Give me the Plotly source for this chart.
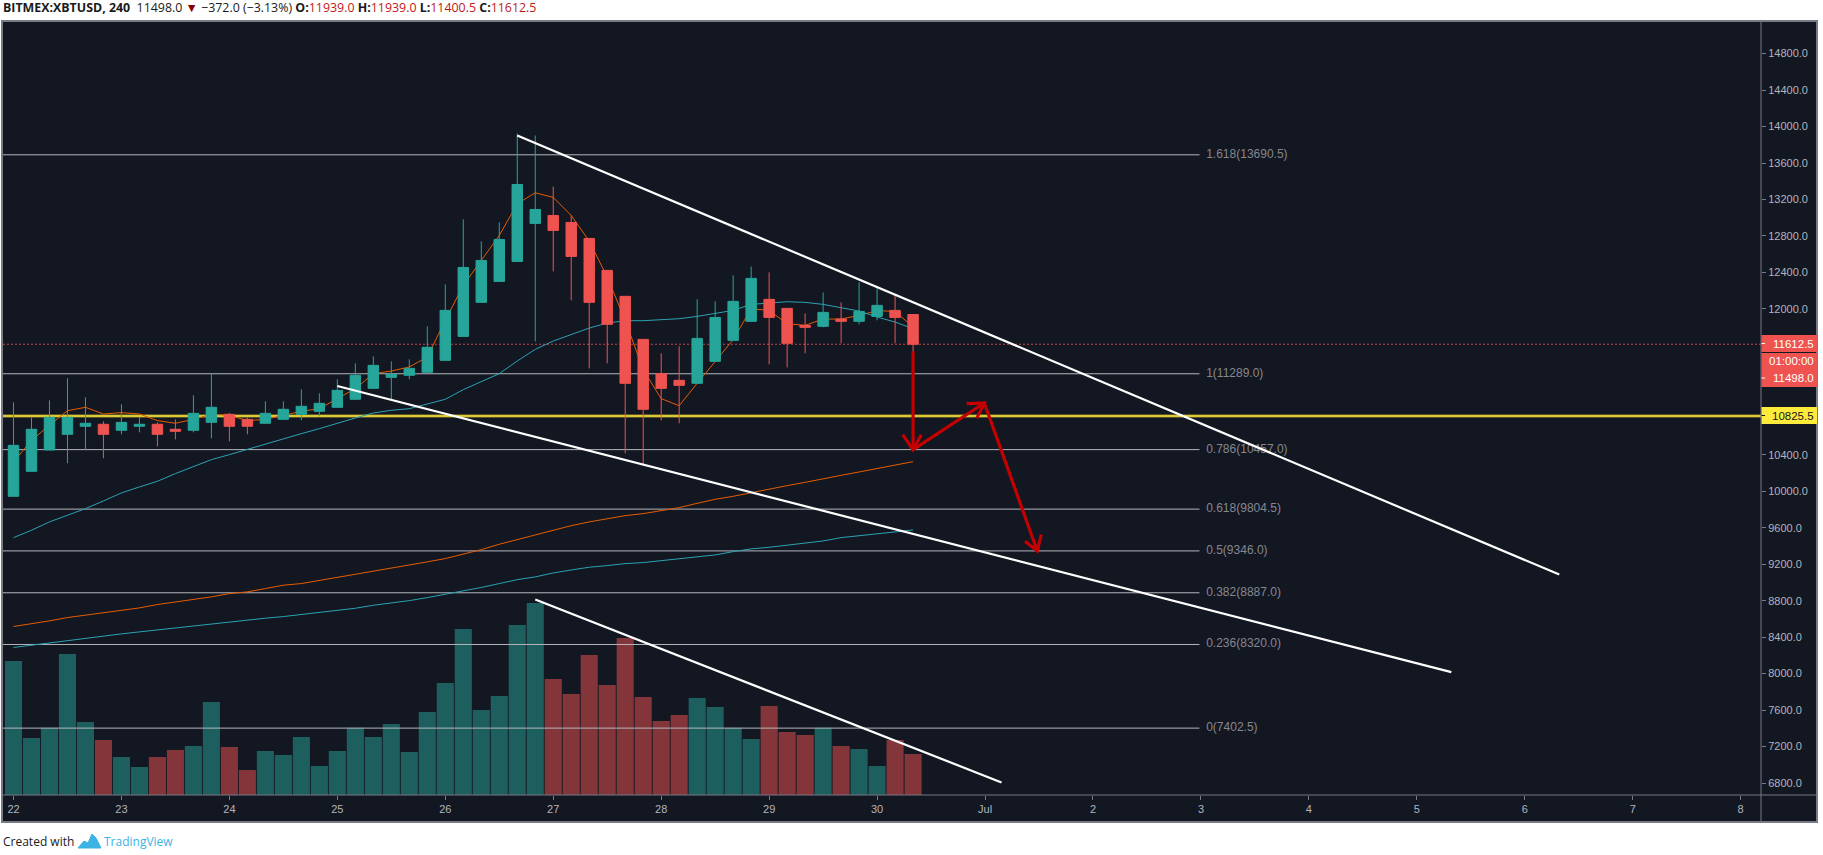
import pandas as pd
import plotly.graph_objects as go

# ---------- data ----------
START = "2019-06-22 00:00"
opens = [9945,10219,10453,10625,10713,10735,10669,10713,10735,10680,10669,10756,10844,10789,10746,10789,10844,10877,10921,11009,11129,11250,11272,11305,11436,11699,12072,12302,12521,12938,13025,12949,12773,12423,12138,11666,11290,11217,11184,11425,11655,11864,12105,12006,11820,11809,11889,11864,11918,11984,11939]
highs = [10976,10811,10998,11239,11031,10767,10954,10815,10756,10789,11052,11294,10859,10811,10987,10987,11118,11074,11228,11403,11480,11425,11447,11809,12269,12982,12740,12949,13924,13902,13343,13025,12773,12423,12138,11666,11513,11590,12105,12083,12368,12466,12401,12006,11951,12181,12072,12291,12225,12149,11939]
lows = [9945,10219,10453,10307,10450,10362,10625,10647,10493,10570,10647,10581,10548,10625,10746,10789,10778,10822,10921,11009,11129,11009,11228,11305,11436,11699,12072,12302,12521,11644,12412,12094,11348,11403,10417,10296,10778,10746,11184,11425,11655,11864,11392,11359,11513,11798,11623,11831,11875,11623,11400.5]
closes = [10504,10680,10811,10811,10746,10625,10756,10735,10625,10658,10855,10921,10713,10713,10855,10899,10932,10965,11107,11272,11381,11283,11348,11579,11984,12455,12532,12762,13365,13091,12861,12576,12072,11831,11184,10899,11129,11162,11677,11907,12083,12335,11907,11623,11798,11962,11864,11973,12039,11907,11612.5]
volumes = [402,171,202,423,219,165,114,84,114,135,147,279,144,75,132,120,174,87,132,202,174,213,129,249,336,498,255,297,510,576,348,303,420,330,471,294,222,240,291,264,202,168,267,189,180,202,147,138,87,165,123]
ma_fast = [10322,10559,10724,10884,10921,10848,10863,10848,10775,10746,10789,10844,10833,10775,10789,10837,10877,10906,11016,11126,11290,11319,11363,11473,11875,12258,12532,12806,13153,13274,13223,13025,12744,12350,11875,11334,11016,10939,11184,11425,11663,12002,11984,11838,11820,11889,11889,11929,11981,11973,11802]
ma_mid = [9492,9573,9664,9737,9810,9894,9982,10048,10110,10194,10274,10347,10402,10461,10515,10574,10632,10687,10749,10804,10859,10888,10906,10954,11009,11115,11199,11290,11429,11557,11648,11717,11790,11845,11871,11871,11878,11893,11918,11948,11984,12050,12068,12079,12072,12050,12013,11977,11911,11856,11783]
ma_slow = [8517,8546,8579,8615,8641,8670,8696,8721,8758,8787,8809,8842,8878,8897,8933,8970,8988,9021,9054,9087,9123,9153,9185,9226,9262,9310,9360,9419,9470,9521,9572,9623,9664,9700,9733,9755,9784,9821,9868,9912,9945,9985,10029,10062,10098,10139,10175,10212,10252,10288,10325]
ma_long = [8287,8312,8337,8367,8389,8411,8436,8458,8480,8505,8527,8549,8564,8586,8608,8626,8648,8674,8696,8717,8750,8772,8801,8834,8871,8904,8945,8988,9031,9061,9104,9137,9167,9185,9207,9218,9240,9258,9280,9302,9338,9368,9386,9408,9433,9455,9492,9510,9532,9554,9576]

fib_labels = ["1.618(13690.5)","1(11289.0)","0.786(10457.0)","0.618(9804.5)","0.5(9346.0)","0.382(8887.0)","0.236(8320.0)","0(7402.5)"]
fib_values = [13690.5,11289,10457,9804.5,9346,8887,8320,7402.5]

support_level = 10825.5
close_level = 11612.5

trend_upper_x = ["2019-06-26 16:00","2019-07-06 07:40"]
trend_upper_y = [13902,9087]
trend_lower_x = ["2019-06-25 00:00","2019-07-05 07:40"]
trend_lower_y = [11155,8016]
trend_volume_x = ["2019-06-26 20:00","2019-07-01 03:40"]
trend_volume_y = [8813,6807]

arrow1_x = ["2019-06-30 08:00","2019-06-30 08:00",None,"2019-06-30 05:41","2019-06-30 08:00","2019-06-30 09:50"]
arrow1_y = [11535,10457,None,10621,10457,10621]
arrow2_x = ["2019-06-30 08:00","2019-06-30 23:50",None,"2019-06-30 19:55","2019-06-30 23:50","2019-06-30 22:09"]
arrow2_y = [10457,10968,None,10961,10968,10800]
arrow3_x = ["2019-06-30 23:50","2019-07-01 11:37",None,"2019-07-01 08:53","2019-07-01 11:37","2019-07-01 12:30"]
arrow3_y = [10968,9346,None,9452,9346,9525]

tick_dates = ["2019-06-22","2019-06-23","2019-06-24","2019-06-25","2019-06-26","2019-06-27","2019-06-28","2019-06-29","2019-06-30","2019-07-01","2019-07-02","2019-07-03","2019-07-04","2019-07-05","2019-07-06","2019-07-07","2019-07-08"]
tick_text = ["22","23","24","25","26","27","28","29","30","Jul","2","3","4","5","6","7","8"]
price_ticks = [6800,7200,7600,8000,8400,8800,9200,9600,10000,10400,12000,12400,12800,13200,13600,14000,14400,14800]

X_RANGE = ["2019-06-21 21:40","2019-07-08 04:31"]
Y_RANGE = [6669, 15147]
VOL_RANGE = [0, 2319]
FIB_END = "2019-07-02 23:40"
FIB_LABEL_X = "2019-07-03 01:10"

UP, DOWN = "#26a69a", "#ef5350"
VOL_UP, VOL_DOWN = "#1d5f5e", "#843539"
BG, FRAME = "#131722", "#787b86"
FIB = "#b4b6bd"
TEAL, ORANGE = "#2ba3b3", "#e65c00"
ARROW = "#c40000"
YELLOW = "#ffeb3b"
AXIS_FONT = "Liberation Sans"

times = pd.date_range(START, periods=len(opens), freq="4h")
W, H = 1823, 855
ML, MR, MT, MB = 3, 62, 22, 60
def px(x): return (x - ML) / (W - ML - MR)
def py(y): return (H - MB - y) / (H - MT - MB)

fig = go.Figure()

# volume (lowest layer)
fig.add_bar(x=times, y=volumes, yaxis="y", hoverinfo="skip",
            marker=dict(color=[VOL_UP if c >= o else VOL_DOWN for o, c in zip(opens, closes)], line_width=0))

# level lines, MAs: above volume, below candles
for v in fib_values:
    fig.add_scatter(x=[X_RANGE[0], FIB_END], y=[v, v], yaxis="y2", mode="lines",
                    line=dict(color=FIB, width=1), hoverinfo="skip")
fig.add_scatter(x=[FIB_LABEL_X] * len(fib_values), y=fib_values, yaxis="y2", mode="text", text=fib_labels,
                textposition="middle right", hoverinfo="skip", cliponaxis=False,
                textfont=dict(family=AXIS_FONT, size=12, color="#85878f"))
fig.add_scatter(x=X_RANGE, y=[support_level] * 2, yaxis="y2", mode="lines",
                line=dict(color="#6f6a2a", width=3.4), hoverinfo="skip")
fig.add_scatter(x=X_RANGE, y=[support_level] * 2, yaxis="y2", mode="lines",
                line=dict(color=YELLOW, width=1.6), hoverinfo="skip")
fig.add_scatter(x=X_RANGE, y=[close_level] * 2, yaxis="y2", mode="lines",
                line=dict(color=DOWN, width=0.8, dash="2px,2px"), hoverinfo="skip")
for series, col in ((ma_fast, ORANGE), (ma_mid, TEAL), (ma_slow, ORANGE), (ma_long, TEAL)):
    fig.add_scatter(x=times, y=series, yaxis="y2", mode="lines", line=dict(color=col, width=1), hoverinfo="skip")

# candles
fig.add_candlestick(x=times, open=opens, high=highs, low=lows, close=closes, yaxis="y3", hoverinfo="skip",
                    increasing=dict(line=dict(color=UP, width=1), fillcolor=UP),
                    decreasing=dict(line=dict(color=DOWN, width=1), fillcolor=DOWN),
                    whiskerwidth=0)

# trend lines and arrows on top
for tx, ty in ((trend_upper_x, trend_upper_y), (trend_lower_x, trend_lower_y), (trend_volume_x, trend_volume_y)):
    fig.add_scatter(x=tx, y=ty, yaxis="y3", mode="lines", line=dict(color="#ffffff", width=2.2), hoverinfo="skip")
for ax, ay in ((arrow1_x, arrow1_y), (arrow2_x, arrow2_y), (arrow3_x, arrow3_y)):
    fig.add_scatter(x=ax, y=ay, yaxis="y3", mode="lines", line=dict(color=ARROW, width=3.2), hoverinfo="skip",
                    connectgaps=False)

shapes = [
    dict(type="rect", xref="paper", yref="paper", layer="below", x0=px(2), x1=px(1817), y0=py(822), y1=py(21),
         fillcolor=BG, line=dict(color=FRAME, width=2)),
    dict(type="line", xref="paper", yref="paper", layer="above", x0=px(1761), x1=px(1761), y0=py(822), y1=py(21),
         line=dict(color=FRAME, width=1)),
    dict(type="line", xref="paper", yref="paper", layer="above", x0=px(3), x1=px(1817), y0=py(795), y1=py(795),
         line=dict(color=FRAME, width=1)),
    # price label boxes
    dict(type="rect", xref="paper", yref="paper", layer="above", x0=px(1761.5), x1=px(1817), y0=py(352), y1=py(335),
         fillcolor=DOWN, line_width=0),
    dict(type="rect", xref="paper", yref="paper", layer="above", x0=px(1761.5), x1=px(1817), y0=py(387), y1=py(353),
         fillcolor=DOWN, line_width=0),
    dict(type="rect", xref="paper", yref="paper", layer="above", x0=px(1761.5), x1=px(1817), y0=py(424), y1=py(407),
         fillcolor=YELLOW, line_width=0),
    dict(type="line", xref="paper", yref="paper", layer="above", x0=px(1761.5), x1=px(1765), y0=py(343.5), y1=py(343.5),
         line=dict(color="#ffffff", width=1)),
    dict(type="line", xref="paper", yref="paper", layer="above", x0=px(1761.5), x1=px(1765), y0=py(378), y1=py(378),
         line=dict(color="#ffffff", width=1)),
    dict(type="line", xref="paper", yref="paper", layer="above", x0=px(1761.5), x1=px(1765), y0=py(415.5), y1=py(415.5),
         line=dict(color="#131722", width=1)),
]
# TradingView logo glyph
logo = [(78,848),(84,841),(88,843),(92,834),(96,838),(101,848)]
logo_path = "M " + " L ".join(f"{px(a):.5f},{py(b):.5f}" for a, b in logo) + " Z"
shapes.append(dict(type="path", xref="paper", yref="paper", path=logo_path, fillcolor="#3bb3e4", line=dict(color="#3bb3e4", width=1)))

def note(text, x, y, color, size=11, family=AXIS_FONT, anchor="center"):
    return dict(text=text, xref="paper", yref="paper", x=px(x), y=py(y), xanchor=anchor, yanchor="middle",
                showarrow=False, align="center" if anchor == "center" else "left",
                font=dict(color=color, size=size, family=family))

DR = "#c01818"
INK = "#1a1a1a"
header = (f"<b>BITMEX:XBTUSD, 240</b>  11498.0 <span style='color:#8b0000'>▼</span> −372.0 (−3.13%) "
          f"<b>O:</b><span style='color:{DR}'>11939.0</span> <b>H:</b><span style='color:{DR}'>11939.0</span> "
          f"<b>L:</b><span style='color:{DR}'>11400.5</span> <b>C:</b><span style='color:{DR}'>11612.5</span>")
annotations = [
    note("11612.5", 1793, 343.5, "#ffffff", 11.5),
    note("01:00:00", 1791, 361, "#ffffff", 11.5),
    note("11498.0", 1793, 378, "#ffffff", 11.5),
    note("10825.5", 1793, 415.5, "#131722", 11.5),
    note(header, 1, 8, INK, 12.4, "Open Sans", "left"),
    note("Created with", 1, 842, INK, 12, "Open Sans", "left"),
    note("TradingView", 102, 842, "#3bb3e4", 12, "Open Sans", "left"),
]

y_common = dict(range=Y_RANGE, overlaying="y", showgrid=False, zeroline=False, anchor="x")
fig.update_layout(
    width=W, height=H, autosize=False,
    margin=dict(l=ML, r=MR, t=MT, b=MB, pad=0),
    paper_bgcolor="#ffffff", plot_bgcolor="rgba(0,0,0,0)",
    showlegend=False, boxgap=0.42, boxgroupgap=0, bargap=0.05,
    xaxis=dict(type="date", range=X_RANGE, rangeslider=dict(visible=False), showgrid=False, zeroline=False,
               tickmode="array", tickvals=tick_dates, ticktext=tick_text, ticks="outside", ticklen=4,
               tickcolor=FRAME, showline=False, tickangle=0,
               tickfont=dict(family=AXIS_FONT, size=11, color="#b2b5be")),
    yaxis=dict(range=VOL_RANGE, visible=False, fixedrange=True),
    yaxis2=dict(**y_common, side="right", tickmode="array", tickvals=price_ticks,
                ticktext=[f"{t}.0" for t in price_ticks], ticks="outside", ticklen=4, tickcolor=FRAME,
                showline=False, tickfont=dict(family=AXIS_FONT, size=11, color="#b2b5be")),
    yaxis3=dict(**y_common, visible=False),
    shapes=shapes, annotations=annotations,
)

fig.write_html("out.html", config=dict(displayModeBar=False, staticPlot=True),
               post_script="document.body.style.margin='0';document.documentElement.style.overflow='hidden';")
